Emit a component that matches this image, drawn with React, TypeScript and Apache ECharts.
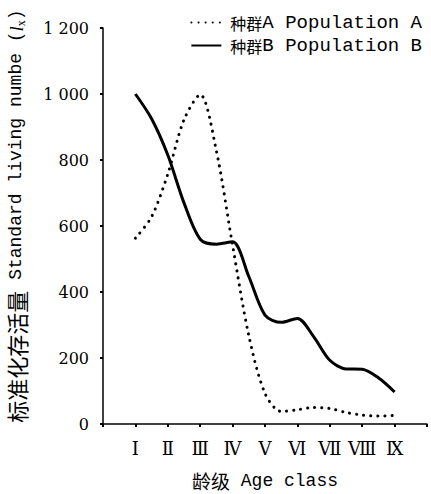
import React, { useEffect, useRef } from "react";
import * as echarts from "echarts";

const ageX = [1, 1.5, 2, 2.5, 3, 3.5, 4, 4.5, 5, 5.5, 6, 6.5, 7, 7.5, 8, 8.5, 9];
const popA = [563, 628, 757, 922, 998, 827, 541, 268, 93, 38, 43, 50, 47, 35, 27, 24, 26];
const popB = [1000, 925, 815, 670, 560, 545, 552, 447, 330, 308, 320, 265, 193, 167, 166, 140, 97];
const xLabels = ["Ⅰ", "Ⅱ", "Ⅲ", "Ⅳ", "Ⅴ", "Ⅵ", "Ⅶ", "Ⅷ", "Ⅸ"];
const yTickLabels = ["0", "200", "400", "600", "800", "1 000", "1 200"];
const seriesNames = ["种群A Population A", "种群B Population B"];

const MONO = "Liberation Mono, DejaVu Sans Mono, monospace";
const CJK = "Noto Sans CJK SC, sans-serif";
const SERIF = "DejaVu Serif, Liberation Serif, serif";

export default function App() {
  const ref = useRef<HTMLDivElement>(null);
  useEffect(() => {
    if (!ref.current) return;
    const chart = echarts.init(ref.current, undefined, { renderer: "svg" });
    chart.setOption({
      animation: false,
      backgroundColor: "#ffffff",
      grid: { left: 103, right: 4, top: 28, bottom: 70, containLabel: false, outerBoundsMode: "none" },
      legend: {
        orient: "vertical",
        right: 4,
        top: 8,
        itemWidth: 30,
        itemHeight: 12,
        itemGap: 4,
        data: seriesNames,
        itemStyle: { opacity: 0 },
        formatter: (name: string) => {
          const cn = name.slice(0, 2);
          const en = name.slice(2);
          return `{cn|${cn}}{en|${en}}`;
        },
        textStyle: {
          color: "#000",
          padding: [0, 0, 0, 4],
          rich: {
            cn: { fontFamily: CJK, fontSize: 16, color: "#000" },
            en: { fontFamily: MONO, fontSize: 19, color: "#000" },
          },
        },
      },
      xAxis: {
        type: "value",
        min: 0,
        max: 10,
        interval: 1,
        splitLine: { show: false },
        axisLine: { show: true, lineStyle: { color: "#000", width: 1.5 } },
        axisTick: { show: true, length: 3, lineStyle: { color: "#000", width: 2 } },
        axisLabel: {
          margin: 15,
          color: "#000",
          fontFamily: SERIF,
          fontSize: 18,
          formatter: (v: number) => (v >= 1 && v <= 9 ? xLabels[v - 1] : ""),
        },
        name: "{cn|龄级}{en| Age class}",
        nameLocation: "middle",
        nameGap: 47,
        nameTextStyle: {
          rich: {
            cn: { fontFamily: CJK, fontSize: 19, color: "#000" },
            en: { fontFamily: MONO, fontSize: 18, color: "#000" },
          },
        },
      },
      yAxis: {
        type: "value",
        min: 0,
        max: 1200,
        interval: 200,
        splitLine: { show: false },
        axisLine: { show: true, lineStyle: { color: "#000", width: 1.5 } },
        axisTick: { show: true, length: 3, lineStyle: { color: "#000", width: 2 } },
        axisLabel: {
          margin: 14,
          color: "#000",
          fontFamily: SERIF,
          fontSize: 16,
          formatter: (v: number) => yTickLabels[Math.round(v / 200)],
        },
        name: "{cn|标准化存活量}{en| Standard living numbe (}{it|l}{sub|x}{en|)}",
        nameLocation: "middle",
        nameGap: 76,
        nameTextStyle: {
          padding: [0, 0, 0, 20],
          rich: {
            cn: { fontFamily: CJK, fontSize: 22, color: "#000" },
            en: { fontFamily: MONO, fontSize: 18, color: "#000" },
            it: { fontFamily: "Liberation Serif, serif", fontStyle: "italic", fontSize: 19, color: "#000" },
            sub: { fontFamily: "Liberation Serif, serif", fontSize: 12, color: "#000", verticalAlign: "bottom", padding: [6, 0, 0, 0] },
          },
        },
      },
      series: [
        {
          name: seriesNames[0],
          type: "line",
          smooth: 0.3,
          symbol: "none",
          data: ageX.map((x, i) => [x, popA[i]]),
          lineStyle: { color: "#000", width: 3, type: [0.1, 7], cap: "round" },
          itemStyle: { color: "#000" },
        },
        {
          name: seriesNames[1],
          type: "line",
          smooth: 0.3,
          symbol: "none",
          data: ageX.map((x, i) => [x, popB[i]]),
          lineStyle: { color: "#000", width: 3, type: "solid" },
          itemStyle: { color: "#000" },
        },
      ],
    });
    return () => chart.dispose();
  }, []);
  return <div ref={ref} style={{ width: 431, height: 494, position: "absolute", left: 0, top: 0 }} />;
}
